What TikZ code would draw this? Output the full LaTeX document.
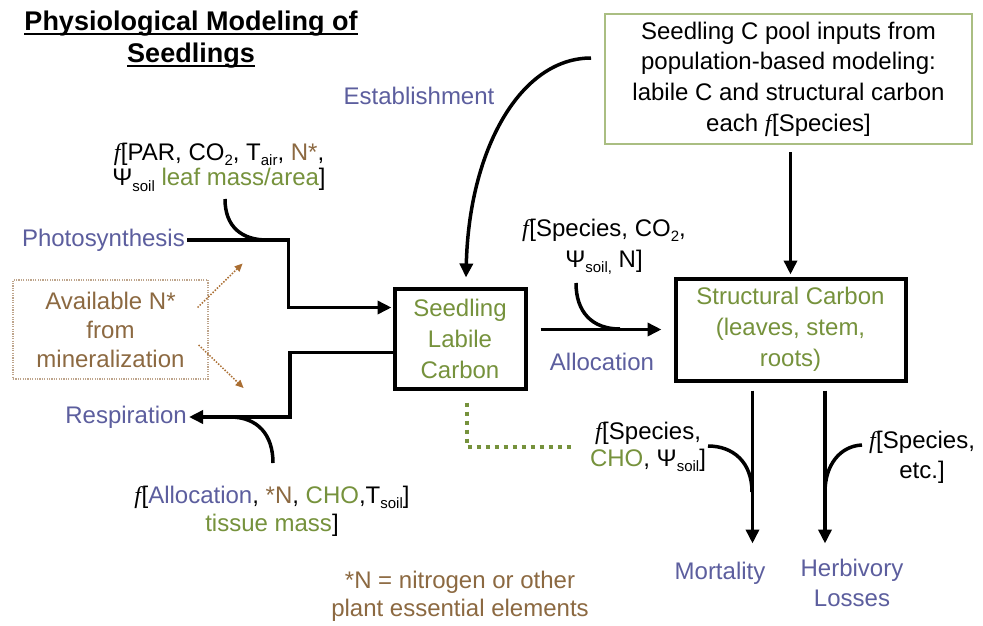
\documentclass[tikz,border=0pt]{standalone}
\usepackage{fontspec}
\setmainfont{Liberation Sans}
\newfontfamily\serifont{Liberation Serif}
\usetikzlibrary{arrows.meta,calc}
\definecolor{blu}{RGB}{92,94,158}
\definecolor{grn}{RGB}{118,146,60}
\definecolor{brn}{RGB}{140,105,65}
\definecolor{boxg}{RGB}{170,190,130}
\definecolor{nbord}{RGB}{190,165,140}
\definecolor{darr}{RGB}{170,110,50}
\newcommand\mysub[1]{\raisebox{-0.22em}{\fontsize{15}{15}\selectfont #1}}
\newcommand\myf{{\serifont\itshape f}\kern0.5pt}
\newcommand\myul[1]{\setbox0\hbox{#1}\rlap{\rule[-4pt]{\wd0}{2pt}}\box0}
\tikzset{
  txt/.style={font=\fontsize{24}{#1}\selectfont, align=center, inner sep=2pt},
  txt/.default=29,
  pool/.style={draw=black, line width=4pt, txt=31, text=grn},
  flow/.style={line width=3.5pt, -{Triangle[length=14pt,width=13pt]}},
  feed/.style={line width=3.5pt},
  ndot/.style={draw=darr, line width=1.5pt, dash pattern=on 1.5pt off 1.5pt, -{Triangle[length=8pt,width=7pt]}},
  gdot/.style={draw=grn, line width=4pt, dash pattern=on 4pt off 5pt}
}
\begin{document}
\begin{tikzpicture}[x=1pt,y=-1pt]
\useasboundingbox[fill=white] (0,0) rectangle (983,625);

% title
\node[font=\bfseries\fontsize{27}{32}\selectfont, align=center, inner sep=0pt] (title) at (191,40)
  {\myul{Physiological Modeling of}\\\myul{Seedlings}};

% boxes
\node[pool, minimum width=131pt, minimum height=100pt] (labile) at (460,338.5)
  {Seedling\\Labile\\Carbon};
\node[pool, minimum width=230pt, minimum height=102pt] (struct) at (790.5,329.5)
  {Structural Carbon\\(leaves, stem,\\roots)};
\node[txt=30.7, draw=boxg, line width=2pt, minimum width=367pt, minimum height=130pt] (topbox) at (788.5,79)
  {Seedling C pool inputs from\\population-based modeling:\\labile C and structural carbon\\each \myf[Species]};
\node[txt=29, text=brn, draw=nbord, line width=1.2pt, dash pattern=on 1.2pt off 1.2pt, minimum width=195pt, minimum height=99pt] (nbox) at (110.5,329.5)
  {Available N*\\from\\mineralization};

% labels
\node[txt, text=blu] (estab) at (419,96) {Establishment};
\node[txt, text=blu, anchor=east] (photo) at (187,240) {Photosynthesis};
\node[txt, text=blu, anchor=east] (resp) at (189,417) {Respiration};
\node[txt, text=blu] (alloc) at (602,362) {Allocation};
\node[txt, text=blu] (mort) at (720,573) {Mortality};
\node[txt=30, text=blu] (herb) at (852,583) {Herbivory\\Losses};
\node[txt=28, text=brn] (foot) at (460,596) {*N = nitrogen or other\\plant essential elements};

\node[txt=25.5] (fpar) at (219,167)
  {\myf[PAR, CO\mysub{2}, T\mysub{air}, \textcolor{brn}{N*},\\
   Ψ\mysub{soil} \textcolor{grn}{leaf mass/area}]};
\node[txt=28] (fresp) at (272,511)
  {\myf[\textcolor{blu}{Allocation}, \textcolor{brn}{*N}, \textcolor{grn}{CHO},T\mysub{soil}]\\
   \textcolor{grn}{tissue mass}]};
\node[txt=31] (falloc) at (604,247)
  {\myf[Species, CO\mysub{2},\\Ψ\mysub{soil,} N]};
\node[txt=27] (fmort) at (648,447)
  {\myf[Species,\\\textcolor{grn}{CHO}, Ψ\mysub{soil}]};
\node[txt=30] (fherb) at (922,457)
  {\myf[Species,\\etc.]};

% curve end coordinates
\coordinate (estS) at (591,58);
\coordinate (fparS) at (225,199);
\coordinate (fparE) at (267,240);
\coordinate (frespS) at (273,463);
\coordinate (frespE) at (230,417);
\coordinate (fallocS) at (576,283);
\coordinate (fallocE) at (620,329);
\coordinate (fmortS) at (708,446);
\coordinate (fmortE) at (752,492);
\coordinate (fherbS) at (862,445);
\coordinate (fherbE) at (825,492);

% connectors
\draw[flow] (estS) .. controls (520,58) and (469,150) .. ($(labile.north)+(6,-9)$);
\draw[flow] (photo.east) -| ($(labile.west)+(-104,-31)$) -- ($(labile.west)+(-1,-31)$);
\draw[flow] ($(labile.west)+(0,14)$) -| ($(resp.east)+(101,0)$) -- (resp.east);
\draw[flow] ($(labile.east |- struct.west)+(13,0)$) -- ($(struct.west)+(-12,0)$);
\draw[flow] ($(struct.north |- topbox.south)+(0,7)$) -- ($(struct.north)+(0,-2)$);
\draw[flow] ($(struct.south)+(-38,8)$) -- ($(struct.south)+(-38,161)$);
\draw[flow] ($(struct.south)+(34.5,8)$) -- ($(struct.south)+(34.5,161)$);

\draw[feed] (fparS) .. controls (225,227) and (242,240) .. (fparE);
\draw[feed] (frespS) .. controls (273,435) and (258,417) .. (frespE);
\draw[feed] (fallocS) .. controls (576,312) and (592,329) .. (fallocE);
\draw[feed] (fmortS) .. controls (733,446) and (752,462) .. (fmortE);
\draw[feed] (fherbS) .. controls (840,446) and (825,465) .. (fherbE);

\draw[gdot] ($(labile.south)+(7,12)$) |- ($(fmort.west)+(-17,0)$);

\draw[ndot] ($(nbox.east)+(-11,-22)$) -- ($(nbox.east)+(34,-66)$);
\draw[ndot] ($(nbox.east)+(-10,15.5)$) -- ($(nbox.east)+(35,58.5)$);
\end{tikzpicture}
\end{document}
